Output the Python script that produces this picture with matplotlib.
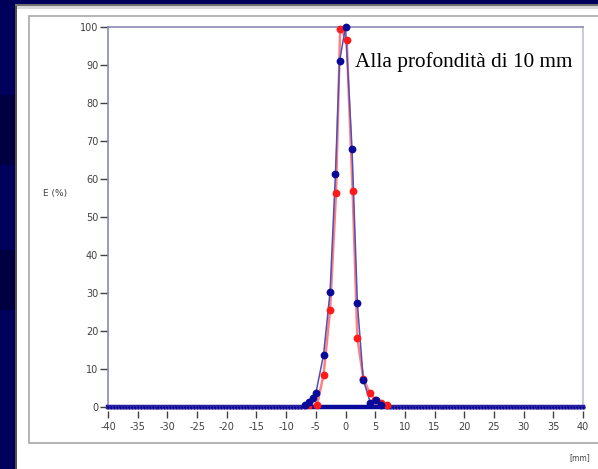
import matplotlib
matplotlib.use("Agg")
import matplotlib.pyplot as plt
import matplotlib.transforms as mtransforms
from matplotlib.patches import Rectangle

# ---- data ----
blue_left_x = [i / 2 for i in range(-80, -14)]
blue_left_y = [0.0] * len(blue_left_x)
blue_peak_x = [-6.9, -6.1, -5.5, -5.0, -3.7, -2.6, -1.7, -1.0, 0.0, 1.1, 2.0, 3.0, 4.2, 5.2, 6.0]
blue_peak_y = [0.5, 1.4, 2.3, 3.6, 13.7, 30.3, 61.2, 91.0, 100.0, 68.0, 27.3, 7.1, 1.1, 1.8, 0.5]
blue_right_x = [i / 2 for i in range(14, 81)]
blue_right_y = [0.0] * len(blue_right_x)

red_left_x = [i / 2 for i in range(-80, -11)]
red_left_y = [0.0] * len(red_left_x)
red_peak_x = [-4.8, -3.7, -2.6, -1.6, -0.9, 0.2, 1.2, 2.0, 3.0, 4.1, 5.0, 6.0, 7.0]
red_peak_y = [0.5, 8.4, 25.5, 56.2, 99.6, 96.6, 56.9, 18.1, 7.5, 3.6, 1.8, 1.0, 0.5]
red_right_x = [i / 2 for i in range(16, 81)]
red_right_y = [0.0] * len(red_right_x)

x_ticks = list(range(-40, 41, 5))
y_ticks = list(range(0, 101, 10))
annotation = "Alla profondità di 10 mm"
y_label = "E (%)"
x_unit = "[mm]"

blue_x = blue_left_x + blue_peak_x + blue_right_x
blue_y = blue_left_y + blue_peak_y + blue_right_y
red_x = red_left_x + red_peak_x + red_right_x
red_y = red_left_y + red_peak_y + red_right_y

W, H = 598, 469
fig = plt.figure(figsize=(W / 100, H / 100), dpi=100)
fig.patch.set_facecolor("#00005c")

def px_rect(x0, y0, x1, y1, **kw):
    r = Rectangle((x0 / W, 1 - y1 / H), (x1 - x0) / W, (y1 - y0) / H,
                  transform=fig.transFigure, zorder=-10, **kw)
    fig.add_artist(r)

# slightly different navy strips on left edge
px_rect(0, 95, 15, 165, facecolor="#000040", edgecolor="none")
px_rect(0, 250, 15, 310, facecolor="#000040", edgecolor="none")
# white panel
px_rect(15, 4, W, H, facecolor="white", edgecolor="none")
px_rect(15, 4, 17, H, facecolor="#505050", edgecolor="none")
px_rect(15, 4, W, 6, facecolor="#707070", edgecolor="none")
px_rect(17, 6, W, 9, facecolor="#d8d8d8", edgecolor="none")
# inner gray box
px_rect(29, 16, W + 5, 443, facecolor="white", edgecolor="#a8a8a8", linewidth=1.2)

ax = fig.add_axes([108 / W, 1 - 407 / H, (583 - 108) / W, (407 - 27) / H])
ax.set_facecolor("white")
ax.set_xlim(-40, 40)
ax.set_ylim(0, 100)

BLUE = "#0a0a9a"
RED = "#ff1a1a"
# lines
ax.plot(red_x, red_y, color="#ff8080", lw=1.8, zorder=3, clip_on=False)
ax.plot(blue_x, blue_y, color="#5050b8", lw=1.1, zorder=4, clip_on=False)
ax.plot([-40, 40], [0, 0], color=BLUE, lw=3.2, zorder=4.5, clip_on=False)
# markers: baseline samples small, peak samples larger
ax.plot(red_left_x + red_right_x, red_left_y + red_right_y, ls="none", marker="o",
        ms=2.6, mfc=RED, mec="none", zorder=5, clip_on=False)
ax.plot(blue_left_x + blue_right_x, blue_left_y + blue_right_y, ls="none", marker="o",
        ms=2.6, mfc=BLUE, mec="#4040b0", mew=0.4, zorder=5.5, clip_on=False)
ax.plot(red_peak_x, red_peak_y, ls="none", marker="o", ms=4.6,
        mfc=RED, mec=RED, zorder=6, clip_on=False)
ax.plot(blue_peak_x, blue_peak_y, ls="none", marker="o", ms=4.6,
        mfc=BLUE, mec=BLUE, zorder=7, clip_on=False)

for s in ["top", "left", "right"]:
    ax.spines[s].set_color("#8a8ab8")
    ax.spines[s].set_linewidth(1.2)
ax.spines["right"].set_color("#c0c0dc")
ax.spines["bottom"].set_visible(False)

ax.set_xticks(x_ticks)
ax.set_yticks(y_ticks)
ax.set_xticklabels([str(t) for t in x_ticks])
ax.set_yticklabels([str(t) for t in y_ticks])
ax.tick_params(axis="x", direction="out", length=5, width=1, color="#404040",
               pad=6, labelsize=7, labelcolor="#404040")
ax.tick_params(axis="y", direction="out", length=6, width=1, color="#404040",
               pad=1, labelsize=7, labelcolor="#404040")
offset = mtransforms.ScaledTranslation(0, -4 / 100, fig.dpi_scale_trans)
for t in ax.xaxis.get_major_ticks():
    t.tick1line.set_transform(t.tick1line.get_transform() + offset)

fig.text(55 / W, 1 - 193 / H, y_label, fontsize=6.5, color="#404040",
         ha="center", va="center")
fig.text(580 / W, 1 - 458 / H, x_unit, fontsize=5.5, color="#404040",
         ha="center", va="center")
fig.text(355 / W, 1 - 67 / H, annotation, family="Liberation Serif",
         fontsize=15.3, color="black", ha="left", va="baseline")

fig.savefig("out.png", dpi=100, facecolor=fig.get_facecolor())
